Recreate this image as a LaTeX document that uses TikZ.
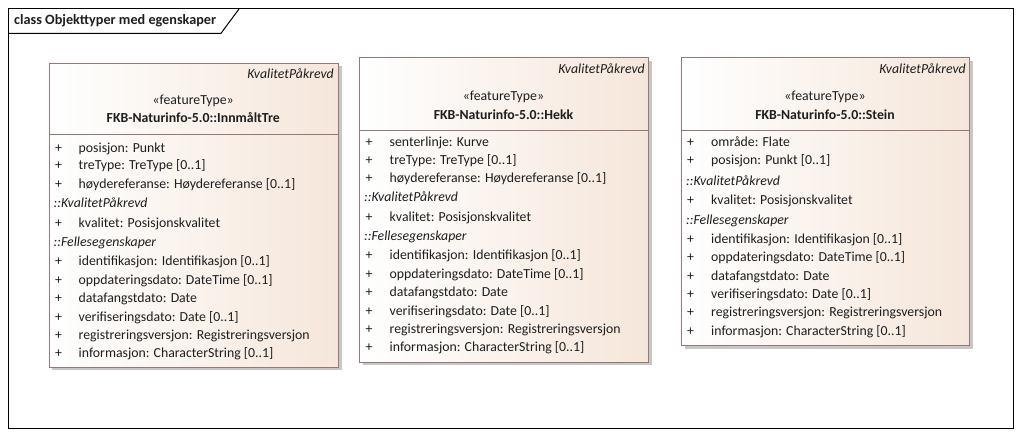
\documentclass[tikz,border=0pt]{standalone}
\usepackage{fontspec}
\setmainfont{Carlito}
\usetikzlibrary{shadows}
\definecolor{peach}{RGB}{245,230,218}
\definecolor{umlborder}{RGB}{150,120,120}
\definecolor{txt}{RGB}{30,30,30}
\newcommand{\fsz}{\fontsize{13.8}{16}\selectfont}
\tikzset{
  umlbox/.style={draw=umlborder, line width=1.1pt, left color=white, right color=peach,
    anchor=north west, inner sep=0pt,
    drop shadow={shadow xshift=3pt, shadow yshift=-3pt, fill=black!22, opacity=1}},
  sepline/.style={draw=umlborder, line width=1pt},
  txtbase/.style={inner sep=0pt, text=txt, font=\fsz},
  attr/.style={txtbase, anchor=base west},
  plus/.style={txtbase, anchor=base},
  grp/.style={txtbase, anchor=base west, font=\fsz\itshape},
  tagtxt/.style={txtbase, anchor=base east, font=\fsz\itshape},
  stereo/.style={txtbase, anchor=base},
  cname/.style={txtbase, anchor=base, font=\fsz\bfseries},
  frame/.style={draw=black, line width=1pt},
}
\begin{document}
\begin{tikzpicture}[x=1pt,y=-1pt]
\useasboundingbox (0,0) rectangle (1021,436);
% outer frame
\node[frame, anchor=north west, minimum width=1004.5pt, minimum height=420pt, inner sep=0pt] (frm) at (8.3,8.3) {};
\coordinate (t1) at (8.3,33.3);
\coordinate (t2) at (221,33.3);
\coordinate (t3) at (239.5,8.3);
\draw[frame] (t1) -- (t2) -- (t3);
\node[txtbase, anchor=base west, font=\fontsize{14.2}{16}\selectfont\bfseries] (title) at (14,25) {class Objekttyper med egenskaper};

% ---------- Box 1: InnmåltTre ----------
\node[umlbox, minimum width=289.5pt, minimum height=304pt] (b1) at (48.5,62.7) {};
\coordinate (b1sl) at (48.5,134);
\coordinate (b1sr) at (338,134);
\draw[sepline] (b1sl) -- (b1sr);
\node[tagtxt] (b1tag) at (334,78.5) {KvalitetPåkrevd};
\node[stereo] (b1st) at (193.2,104.5) {«featureType»};
\node[cname] (b1nm) at (193.2,123) {FKB-Naturinfo-5.0::InnmåltTre};
\foreach \y/\t [count=\i] in {152.3/{posisjon: Punkt},169.7/{treType: TreType [0..1]},188.3/{høydereferanse: Høydereferanse [0..1]},227.3/{kvalitet: Posisjonskvalitet},265.7/{identifikasjon: Identifikasjon [0..1]},284/{oppdateringsdato: DateTime [0..1]},302.7/{datafangstdato: Date},321/{verifiseringsdato: Date [0..1]},339.3/{registreringsversjon: Registreringsversjon},357.5/{informasjon: CharacterString [0..1]}}{
  \node[plus] (b1p\i) at (58.5,\y) {+};
  \node[attr] (b1a\i) at (78.5,\y) {\t};
}
\node[grp] (b1g1) at (53.5,207.7) {::KvalitetPåkrevd};
\node[grp] (b1g2) at (53.5,246.7) {::Fellesegenskaper};

% ---------- Box 2: Hekk ----------
\node[umlbox, minimum width=289pt, minimum height=304.5pt] (b2) at (359,57.3) {};
\coordinate (b2sl) at (359,130);
\coordinate (b2sr) at (648,130);
\draw[sepline] (b2sl) -- (b2sr);
\node[tagtxt] (b2tag) at (645,74) {KvalitetPåkrevd};
\node[stereo] (b2st) at (503.5,100.5) {«featureType»};
\node[cname] (b2nm) at (503.5,119) {FKB-Naturinfo-5.0::Hekk};
\foreach \y/\t [count=\i] in {146.7/{senterlinje: Kurve},164.7/{treType: TreType [0..1]},182.7/{høydereferanse: Høydereferanse [0..1]},221/{kvalitet: Posisjonskvalitet},259.5/{identifikasjon: Identifikasjon [0..1]},278/{oppdateringsdato: DateTime [0..1]},296.5/{datafangstdato: Date},315/{verifiseringsdato: Date [0..1]},333.3/{registreringsversjon: Registreringsversjon},351.7/{informasjon: CharacterString [0..1]}}{
  \node[plus] (b2p\i) at (369,\y) {+};
  \node[attr] (b2a\i) at (389.5,\y) {\t};
}
\node[grp] (b2g1) at (364,201.5) {::KvalitetPåkrevd};
\node[grp] (b2g2) at (364,240.5) {::Fellesegenskaper};

% ---------- Box 3: Stein ----------
\node[umlbox, minimum width=288pt, minimum height=287.7pt] (b3) at (681,57.3) {};
\coordinate (b3sl) at (681,130);
\coordinate (b3sr) at (969,130);
\draw[sepline] (b3sl) -- (b3sr);
\node[tagtxt] (b3tag) at (966,74) {KvalitetPåkrevd};
\node[stereo] (b3st) at (825,100.5) {«featureType»};
\node[cname] (b3nm) at (825,119) {FKB-Naturinfo-5.0::Stein};
\foreach \y/\t [count=\i] in {146.7/{område: Flate},164.7/{posisjon: Punkt [0..1]},204.5/{kvalitet: Posisjonskvalitet},243/{identifikasjon: Identifikasjon [0..1]},261.5/{oppdateringsdato: DateTime [0..1]},280/{datafangstdato: Date},298.3/{verifiseringsdato: Date [0..1]},316.7/{registreringsversjon: Registreringsversjon},335/{informasjon: CharacterString [0..1]}}{
  \node[plus] (b3p\i) at (690.5,\y) {+};
  \node[attr] (b3a\i) at (711,\y) {\t};
}
\node[grp] (b3g1) at (686,185) {::KvalitetPåkrevd};
\node[grp] (b3g2) at (686,224) {::Fellesegenskaper};
\end{tikzpicture}
\end{document}
